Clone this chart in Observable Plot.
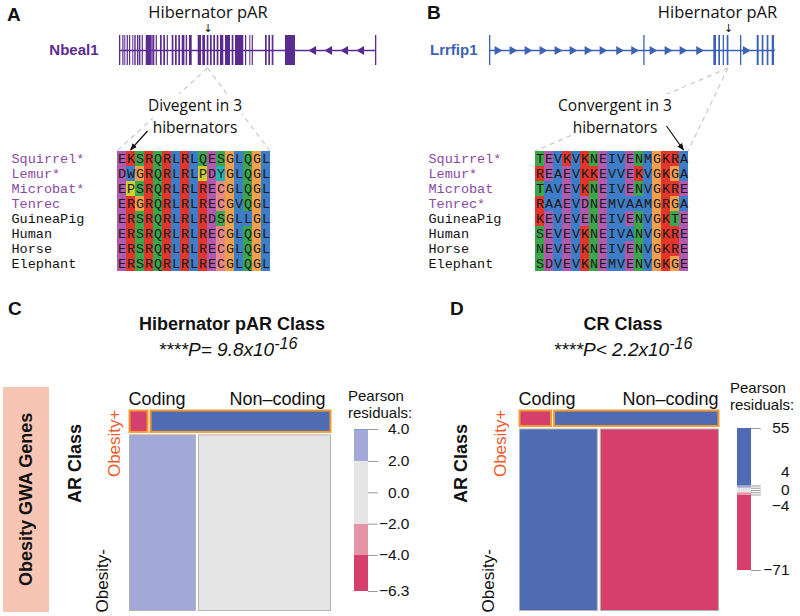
<!DOCTYPE html>
<html><head><meta charset="utf-8">
<script src="https://cdn.jsdelivr.net/npm/d3@7"></script>
<script src="https://cdn.jsdelivr.net/npm/@observablehq/plot@0.6"></script>
<style>
body{margin:0;background:#fff;}
#fig{position:relative;width:800px;height:616px;overflow:hidden;font-family:"Liberation Sans",Arial,Helvetica,sans-serif;color:#111;}
.panel{font-weight:bold;font-size:19px;line-height:19px;}
.note{font-family:"Open Sans",sans-serif;font-size:15.5px;line-height:21.5px;text-align:center;width:200px;}
.note span{background:#fff;}
.ttl{font-weight:bold;font-size:18px;line-height:18px;text-align:center;width:300px;}
.pv{font-style:italic;font-size:19px;line-height:19px;text-align:center;width:300px;}
.pv .sup{position:relative;top:-0.45em;font-size:0.85em;}
.leg{font-size:15px;line-height:17px;}
</style></head><body><div id="fig"></div>
<script>
// ---------------- DATA ----------------
// Panel A: Nbeal1 gene model (relative genomic units)
const nbeal1Length = 256;
const nbeal1PAR = 88.5;
const nbeal1ExonStart = [0,3.3,5.3,7.7,10,13.3,15.3,18,20,22.7,26.7,33.3,36.7,41,44.3,47.7,52.7,56,59.3,62.7,66.7,70,78.7,83.3,87.7,91,94.3,97.7,101,106,112.7,116,126,130.3,132.7,146,149.3,152.7,166,256];
const nbeal1ExonWidth = [1.3,1.2,1,1.2,1.2,1,1.4,1.4,1.4,1.2,6,2,1.2,1.7,1.7,1.2,1.7,1.7,1.7,2.7,1.4,2.7,3.3,2.7,1.7,1.7,1.7,1.7,3.3,5,1.7,8.3,1.2,1,1.2,1.7,1.7,1.7,10,1.3];
const nbeal1StrandMarks = [194,210,226,242];

// Panel B: Lrrfip1 gene model
const lrrfip1Length = 286;
const lrrfip1PAR = 239;
const lrrfip1ExonStart = [0,154.3,224.3,229.3,233.7,237.7,251,267.7,272.7,277.7,282.7];
const lrrfip1ExonWidth = [1.3,1.3,2.7,1.7,1.3,1.7,1.3,2,1.7,1.7,2.3];
const lrrfip1StrandMarks = [7.7,22.7,37.7,52.7,67.7,82.7,97.7,112.7,129.3,144.3,162.7,177.7,192.7,209.3,256];

// Alignments
const speciesA = ["Squirrel*","Lemur*","Microbat*","Tenrec","GuineaPig","Human","Horse","Elephant"];
const seqA = ["EKSRQRLRLQESGLQGL","DWGRQRLRLPDYGLQGL","EPSRQRLRLRECGLQGL","ERGRQRLRLRECGVQGL","ERSRQRLRLRDSGLLGL","ERSRQRLRLRECGLQGL","ERSRQRLRLRECGLQGL","ERSRQRLRLRECGLQGL"];
const hibernatorA = [true,true,true,true,false,false,false,false];
const speciesB = ["Squirrel*","Lemur*","Microbat","Tenrec*","GuineaPig","Human","Horse","Elephant"];
const seqB = ["TEVKVKNEIVENMGKRA","REAEVKKEVVEKVGKGA","TAVEVKNEIVENVGKRE","RAAEVDNEMVAAMGRGA","KEVEVENEIVENVGKTE","SEVEVKNEIVANVGKRE","NEVEVKNEIVENVGKRE","SDVEVKNEMVENVGKGE"];
const hibernatorB = [true,true,true,true,false,false,false,false];
const divergentColumn = 1;
const convergentColumn = 16;

// Mosaic panels C and D
const arClasses = ["Obesity+","Obesity-"];
const codingClasses = ["Coding","Non–coding"];
const cRowShare = [0.12, 0.88];
const cCodingShare = [0.103, 0.338];
const cResidual = [[-6.3, 4.04],[2.9, -1.9]];
const cTicks = [4.04, 2, 0, -2, -4, -6.3];
const dRowShare = [0.091, 0.909];
const dCodingShare = [0.171, 0.40];
const dResidual = [[-71, 55],[24, -18]];
const dTicks = [55, 4, 2, 0, -2, -4, -71];
const dLabels = [55, 0, -71];
const residualBreaks = [-4,-2,2,4];

// ---------------- STYLE ----------------
const residualColors = ["#d4406b","#e594a5","#e5e5e5","#a2a8d7","#4f6bb4"];
const aaColor = {E:"#b15aae",D:"#b15aae",K:"#e0362c",R:"#e0362c",S:"#3ba64a",T:"#3ba64a",N:"#3ba64a",Q:"#3ba64a",
  G:"#f0a149",L:"#3e7ec8",V:"#3e7ec8",I:"#3e7ec8",M:"#3e7ec8",A:"#3e7ec8",W:"#3e7ec8",F:"#3e7ec8",
  C:"#ea8888",P:"#d1cd2e",Y:"#23b4b4",H:"#23b4b4"};
const sans = "Liberation Sans, Arial, Helvetica, sans-serif";
const mono = "'Courier New', 'Liberation Mono', monospace";
const hibColor = "#8b4aa6";

const fig = document.getElementById("fig");
function place(node, left, top, z = 1) {
  node.style.position = "absolute"; node.style.left = left + "px"; node.style.top = top + "px"; node.style.zIndex = z;
  fig.appendChild(node); return node;
}
function html(str, left, top, cls, z = 1, css = "") {
  const d = document.createElement("div"); d.className = cls; d.innerHTML = str; d.style.cssText = css;
  return place(d, left, top, z);
}

// ---------------- GENE MODELS ----------------
function genePlot({length, starts, widths, marks, par, name, color, nameDx, markRotate, parDx, marginLeft}) {
  const exons = starts.map((s, i) => ({s, e: s + widths[i]}));
  return Plot.plot({
    width: 400, height: 100, marginLeft, marginRight: 400 - marginLeft - length,
    marginTop: 35, marginBottom: 35,
    x: {domain: [0, length], axis: null},
    y: {domain: [-1, 1], axis: null},
    style: {fontFamily: sans, background: "transparent", overflow: "visible"},
    marks: [
      Plot.ruleY([0], {x1: 0, x2: length, stroke: color, strokeWidth: 1.6}),
      Plot.rect(exons, {x1: "s", x2: "e", y1: -1, y2: 1, fill: color}),
      Plot.dot(marks, {x: d => d, y: 0, symbol: "triangle", r: 3.3, rotate: markRotate, fill: color, stroke: null}),
      Plot.text([name], {x: 0, y: 0, text: d => d, dx: nameDx, textAnchor: "end", fill: color, fontWeight: "bold", fontSize: 15}),
      Plot.text(["Hibernator pAR"], {x: par, frameAnchor: "top", lineAnchor: "bottom", dy: -18, dx: parDx, text: d => d, fontFamily: "Open Sans", fontSize: 16.5, fill: "#111"}),
      Plot.text(["↓"], {x: par, frameAnchor: "top", lineAnchor: "bottom", dy: -4, text: d => d, fontFamily: "DejaVu Sans", fontSize: 11, fill: "#111"})
    ]
  });
}
const geneA = place(genePlot({length: nbeal1Length, starts: nbeal1ExonStart, widths: nbeal1ExonWidth, marks: nbeal1StrandMarks,
  par: nbeal1PAR, name: "Nbeal1", color: "#5b2c8f", nameDx: -21, markRotate: -90, parDx: 0, marginLeft: 119}), 0, 0);
const geneB = place(genePlot({length: lrrfip1Length, starts: lrrfip1ExonStart, widths: lrrfip1ExonWidth, marks: lrrfip1StrandMarks,
  par: lrrfip1PAR, name: "Lrrfip1", color: "#3d62b3", nameDx: -12, markRotate: 90, parDx: -11, marginLeft: 89}), 400, 0);

// ---------------- ALIGNMENTS ----------------
function alignPlot({species, seqs, hib, marginLeft, width, labelDx}) {
  const cells = seqs.flatMap((s, r) => [...s].map((aa, i) => ({sp: species[r], i, aa})));
  return Plot.plot({
    width, height: 140, marginLeft, marginRight: width - marginLeft - 160, marginTop: 8, marginBottom: 7,
    x: {type: "band", domain: d3.range(seqs[0].length), axis: null, padding: 0},
    y: {type: "band", domain: species, axis: null, padding: 0},
    color: {type: "identity"},
    style: {fontFamily: sans, background: "transparent", overflow: "visible"},
    marks: [
      Plot.cell(cells, {x: "i", y: "sp", fill: d => aaColor[d.aa], inset: 0}),
      Plot.text(cells, {x: "i", y: "sp", text: "aa", fontFamily: mono, fontSize: 13.5, fill: "#1a1a1a"}),
      Plot.text(species, {y: d => d, frameAnchor: "left", dx: labelDx, textAnchor: "start", text: d => d,
        fill: (d, i) => hib[i] ? hibColor : "#111", fontFamily: mono, fontSize: 13.5})
    ]
  });
}
const alignAPos = [0, 140], alignBPos = [400, 140];
const alignA = place(alignPlot({species: speciesA, seqs: seqA, hib: hibernatorA, marginLeft: 113, width: 290, labelDx: -102}), ...alignAPos);
const alignB = place(alignPlot({species: speciesB, seqs: seqB, hib: hibernatorB, marginLeft: 131, width: 300, labelDx: -103}), ...alignBPos);

// connectors computed from the plots' scales
function connectorGeom(gene, genePos, par, align, alignPos, species, ncols, col, tail) {
  const gx = gene.scale("x"), gy = gene.scale("y");
  const px = genePos[0] + gx.apply(par), py = genePos[1] + gy.apply(-1) + 3;
  const ax = align.scale("x"), ay = align.scale("y");
  const left = alignPos[0] + ax.apply(0), right = alignPos[0] + ax.apply(ncols - 1) + ax.bandwidth;
  const top = alignPos[1] + ay.apply(species[0]);
  const tx = alignPos[0] + ax.apply(col) + ax.bandwidth / 2, ty = top - 1;
  return {lines: [[px, py, left, top], [px, py, right, top]], arrow: [tx + tail[0], ty + tail[1], tx, ty]};
}
const gA = connectorGeom(geneA, [0, 0], nbeal1PAR, alignA, alignAPos, speciesA, seqA[0].length, divergentColumn, [17, -19]);
const gB = connectorGeom(geneB, [400, 0], lrrfip1PAR, alignB, alignBPos, speciesB, seqB[0].length, convergentColumn, [-17, -24]);

const under = d3.create("svg").attr("width", 800).attr("height", 616);
for (const [x1, y1, x2, y2] of [...gA.lines, ...gB.lines])
  under.append("line").attr("x1", x1).attr("y1", y1).attr("x2", x2).attr("y2", y2)
    .attr("stroke", "#c9c9c9").attr("stroke-width", 1.2).attr("stroke-dasharray", "5,4");
place(under.node(), 0, 0, 0);

html("<span>Divegent in 3</span><br><span>hibernators</span>", 95, 95, "note", 1);
html("<span>Convergent in 3</span><br><span>hibernators</span>", 515, 95, "note", 1);

const over = d3.create("svg").attr("width", 800).attr("height", 616).style("pointer-events", "none");
over.append("defs").append("marker").attr("id", "ah").attr("viewBox", "0 0 10 10").attr("refX", 9).attr("refY", 5)
  .attr("markerWidth", 6).attr("markerHeight", 6).attr("orient", "auto")
  .append("path").attr("d", "M0,1L10,5L0,9z").attr("fill", "#111");
for (const [x1, y1, x2, y2] of [gA.arrow, gB.arrow])
  over.append("line").attr("x1", x1).attr("y1", y1).attr("x2", x2).attr("y2", y2)
    .attr("stroke", "#111").attr("stroke-width", 1.2).attr("marker-end", "url(#ah)");
place(over.node(), 0, 0, 3);

// ---------------- MOSAICS ----------------
const colorOpt = {type: "threshold", domain: residualBreaks, range: residualColors};
function mosaicPlot({rowShare, codingShare, residual, marginLeft, frameWidth, width, rowDx, arDx, ncDx}) {
  const cells = [];
  let y0 = 0;
  arClasses.forEach((r, i) => {
    const y1 = y0 + rowShare[i];
    const xs = [0, codingShare[i], 1];
    codingClasses.forEach((c, j) => cells.push({row: r, col: c, x1: xs[j], x2: xs[j + 1], y1: y0, y2: y1, res: residual[i][j]}));
    y0 = y1;
  });
  return Plot.plot({
    width, height: 236, marginLeft, marginRight: width - marginLeft - frameWidth, marginTop: 29, marginBottom: 4,
    x: {domain: [0, 1], axis: null},
    y: {domain: [0, 1], reverse: true, axis: null},
    color: colorOpt,
    style: {fontFamily: sans, background: "transparent", overflow: "visible"},
    marks: [
      Plot.rect(cells.filter(d => d.row === "Obesity-"), {x1: "x1", x2: "x2", y1: "y1", y2: "y2", fill: "res", stroke: "#b3b3b3", strokeWidth: 1, inset: 1.5}),
      Plot.rect(cells.filter(d => d.row === "Obesity+"), {x1: "x1", x2: "x2", y1: "y1", y2: "y2", fill: "res", stroke: "#f39b2f", strokeWidth: 2, inset: 1.5}),
      Plot.text([codingClasses[0]], {frameAnchor: "top-left", textAnchor: "start", lineAnchor: "bottom", dy: -5, text: d => d, fontSize: 18}),
      Plot.text([codingClasses[1]], {frameAnchor: "top-right", textAnchor: "end", lineAnchor: "bottom", dy: -5, dx: ncDx, text: d => d, fontSize: 18}),
      Plot.text([arClasses[0]], {frameAnchor: "top-left", rotate: -90, textAnchor: "end", dx: rowDx, text: d => d, fill: "#f15a29", fontSize: 17}),
      Plot.text([arClasses[1]], {frameAnchor: "bottom-left", rotate: -90, textAnchor: "start", dx: rowDx, text: d => d, fill: "#111", fontSize: 17}),
      Plot.text(["AR Class"], {frameAnchor: "left", rotate: -90, dx: arDx, dy: -8, text: d => d, fontWeight: "bold", fontSize: 18})
    ]
  });
}
function legendPlot({min, max, ticks, labels, extra, height, marginTop, labelDx}) {
  const edges = [min, ...residualBreaks.filter(b => b > min && b < max), max];
  const segs = d3.pairs(edges).map(([lo, hi]) => ({lo, hi}));
  const fmt = v => (v < 0 ? "\u2212" : "") + Math.abs(v).toFixed(labels.fixed);
  return Plot.plot({
    width: 73, height, marginLeft: 14, marginRight: 45, marginTop, marginBottom: 9,
    x: {domain: [0, 1], axis: null},
    y: {domain: [min, max], axis: null},
    color: colorOpt,
    style: {fontFamily: sans, background: "transparent", overflow: "visible"},
    marks: [
      Plot.rect(segs, {x1: 0, x2: 1, y1: "lo", y2: "hi", fill: d => (d.lo + d.hi) / 2}),
      Plot.ruleY(ticks, {x1: 1, x2: 1.7, stroke: "#9a9a9a", strokeWidth: 1}),
      Plot.text(labels.values, {y: d => d, frameAnchor: "right", dx: labelDx, textAnchor: "end", text: fmt, fontSize: 15.5}),
      ...extra.map(e => Plot.text([e.v], {y: d => d, frameAnchor: "right", dx: labelDx, dy: e.dy, textAnchor: "end", text: fmt, fontSize: 15.5}))
    ]
  });
}

// Panel C
html("", 3, 387, "", 0, "width:46px;height:225px;background:#f8c5b4;");
html("Obesity GWA Genes", 3, 387, "", 1, "width:46px;height:225px;display:flex;align-items:center;justify-content:center;writing-mode:vertical-rl;transform:rotate(180deg);font-weight:bold;font-size:18px;");
place(mosaicPlot({rowShare: cRowShare, codingShare: cCodingShare, residual: cResidual, marginLeft: 128, frameWidth: 204, width: 340, rowDx: -21, arDx: -53, ncDx: -7}), 0, 380);
place(legendPlot({min: d3.min(cResidual.flat()), max: d3.max(cResidual.flat()), ticks: cTicks,
  labels: {values: cTicks, fixed: 1}, extra: [], height: 180, marginTop: 9, labelDx: 41}), 340, 420);
html("Pearson<br>residuals:", 348, 387, "leg");
html("Hibernator pAR Class", 82, 315, "ttl");
html("****P= 9.8x10<span class='sup'>-16</span>", 78, 340, "pv");

// Panel D
place(mosaicPlot({rowShare: dRowShare, codingShare: dCodingShare, residual: dResidual, marginLeft: 118, frameWidth: 202, width: 330, rowDx: -25, arDx: -57, ncDx: -2}), 400, 380);
place(legendPlot({min: d3.min(dResidual.flat()), max: d3.max(dResidual.flat()), ticks: dTicks,
  labels: {values: dLabels, fixed: 0}, extra: [{v: 4, dy: -14}, {v: -4, dy: 11}], height: 179, marginTop: 28, labelDx: 38}), 723, 400);
html("Pearson<br>residuals:", 730, 379, "leg");
html("CR Class", 473, 315, "ttl");
html("****P&lt; 2.2x10<span class='sup'>-16</span>", 473, 340, "pv");

// Panel letters
html("A", 7, 5, "panel");
html("B", 427, 3, "panel");
html("C", 8, 299, "panel");
html("D", 450, 299, "panel");
</script></body></html>
